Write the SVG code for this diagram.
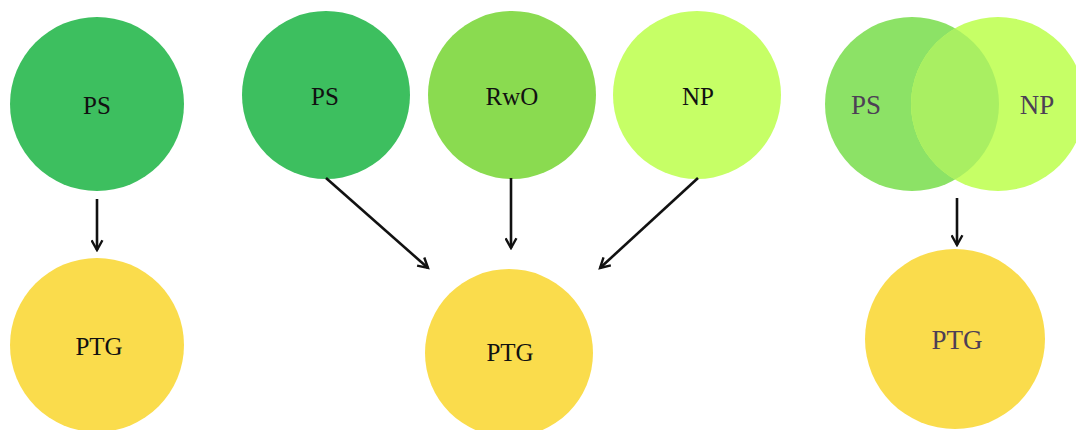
<svg xmlns="http://www.w3.org/2000/svg" width="1076" height="430" viewBox="0 0 1076 430">
<style>
.lbl{font-family:"Liberation Serif","DejaVu Serif",serif;font-size:25px;text-anchor:middle;fill:#111}
.lbl2{font-family:"Liberation Serif","DejaVu Serif",serif;font-size:27px;text-anchor:middle;fill:#4d3f55}
.ps{fill:#3DBF5F}.rwo{fill:#8ADB50}.np{fill:#C6FF66}.ptg{fill:#FADC4C}
.conn line{stroke:#111;stroke-width:2.6;fill:none;marker-end:url(#ah)}
</style>
<defs>
<marker id="ah" viewBox="0 0 12 12" refX="10" refY="6" markerWidth="5" markerHeight="5" orient="auto" markerUnits="strokeWidth">
<path d="M1,1 L10,6 L1,11" fill="none" stroke="#111" stroke-width="2.2"/>
</marker>
<clipPath id="npclip"><circle cx="998" cy="104" r="87"/></clipPath>
</defs>
<rect width="1076" height="430" fill="#fff"/>
<g id="ps1"><circle class="ps" cx="97" cy="104" r="87"/><text class="lbl" x="97" y="114">PS</text></g>
<g id="ptg1"><circle class="ptg" cx="97" cy="345" r="87"/><text class="lbl" x="99" y="355">PTG</text></g>
<g id="ps2"><circle class="ps" cx="326" cy="95" r="84"/><text class="lbl" x="325" y="105">PS</text></g>
<g id="rwo"><circle class="rwo" cx="512" cy="95" r="84"/><text class="lbl" x="512" y="105">RwO</text></g>
<g id="np2"><circle class="np" cx="697" cy="95" r="84"/><text class="lbl" x="698" y="105">NP</text></g>
<g id="ptg2"><circle class="ptg" cx="509" cy="353" r="84"/><text class="lbl" x="510" y="361">PTG</text></g>
<g id="venn">
<circle cx="912" cy="104" r="87" fill="#8CE266"/>
<circle cx="998" cy="104" r="87" fill="#C6FF66"/>
<circle cx="912" cy="104" r="87" fill="#A9EF62" clip-path="url(#npclip)"/>
<text class="lbl2" x="866" y="114">PS</text>
<text class="lbl2" x="1037" y="114">NP</text>
</g>
<g id="ptg3"><circle class="ptg" cx="955" cy="339" r="90"/><text class="lbl2" x="957" y="349">PTG</text></g>
<g class="conn" id="connectors">
<line x1="97" y1="199" x2="97" y2="250"/>
<line x1="326" y1="178" x2="428" y2="268"/>
<line x1="511" y1="178" x2="511" y2="248"/>
<line x1="698" y1="178" x2="600" y2="268"/>
<line x1="957" y1="198" x2="957" y2="245"/>
</g>
</svg>
